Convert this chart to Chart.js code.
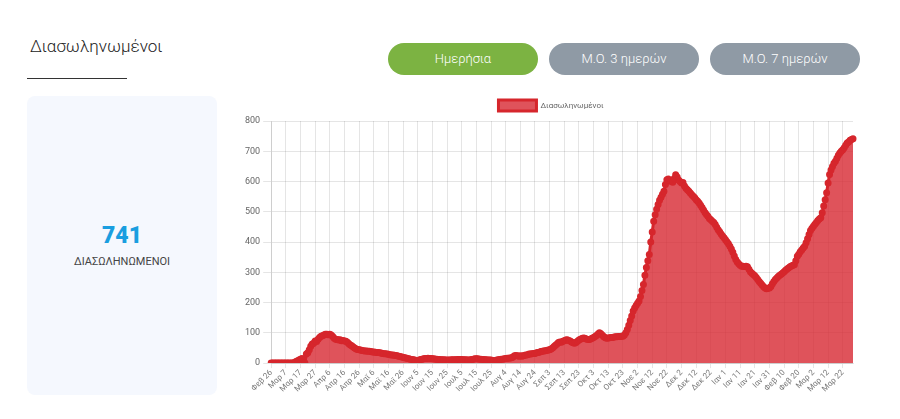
<!DOCTYPE html>
<html lang="el">
<head>
<meta charset="utf-8">
<title>Διασωληνωμένοι</title>
<script src="https://cdn.jsdelivr.net/npm/chart.js@4.4.1/dist/chart.umd.min.js"></script>
<style>
  body { margin: 0; background: #fff; font-family: Roboto, "Open Sans", sans-serif; width: 900px; height: 419px; position: relative; overflow: hidden; }
  .title { position: absolute; left: 30px; top: 36px; font-size: 17px; font-weight: 300; color: #222; }
  .rule { position: absolute; left: 27px; top: 78px; width: 100px; height: 1px; background: #333; }
  .btn { position: absolute; top: 43px; height: 32px; width: 150px; border-radius: 16px; color: #fff; font-size: 13px; font-weight: 300; text-align: center; line-height: 32px; }
  .green { background: #7cb342; }
  .grey { background: #8f9aa5; }
  .card { position: absolute; left: 27px; top: 96px; width: 190px; height: 299px; background: #f5f8fe; border-radius: 8px; text-align: center; }
  .big { position: absolute; left: 0; right: 0; top: 126px; font-size: 23px; font-weight: 900; color: #1a9ee0; }
  .small { position: absolute; left: 0; right: 0; top: 159px; font-size: 11px; font-weight: 400; color: #444; }
  .chart-box { position: absolute; left: 242px; top: 93px; width: 618px; height: 301px; }
</style>
</head>
<body>
<div class="title">Διασωληνωμένοι</div>
<div class="rule"></div>
<div class="btn green" style="left:388px">Ημερήσια</div>
<div class="btn grey" style="left:549px">Μ.Ο. 3 ημερών</div>
<div class="btn grey" style="left:710px">Μ.Ο. 7 ημερών</div>
<div class="card">
  <div class="big">741</div>
  <div class="small">ΔΙΑΣΩΛΗΝΩΜΕΝΟΙ</div>
</div>
<div class="chart-box"><canvas id="myChart"></canvas></div>

<script>
// month names for the x labels
const monthNames = ['Ιαν', 'Φεβ', 'Μαρ', 'Απρ', 'Μαϊ', 'Ιουν', 'Ιουλ', 'Αυγ', 'Σεπ', 'Οκτ', 'Νοε', 'Δεκ'];
const firstDay = [2020, 1, 26]; // Φεβ 26 2020

// intubated patients, one value per day, month by month
const feb20 = [0, 0, 0, 0];
const mar20 = [0, 0, 0, 0, 0, 0, 0, 0, 0, 0, 0, 0, 3, 5, 8, 10, 13, 15, 2, 0, 30, 34, 44, 56, 63, 66, 73, 71, 79, 85, 89];
const apr20 = [90, 93, 95, 95, 94, 95, 93, 88, 82, 79, 78, 76, 77, 74, 75, 73, 72, 69, 64, 60, 57, 53, 50, 47, 45, 44, 43, 42, 41, 40];
const may20 = [40, 39, 39, 38, 37, 37, 36, 35, 35, 34, 33, 32, 31, 31, 30, 29, 28, 27, 27, 26, 25, 24, 23, 22, 20, 19, 18, 17, 15, 14, 13];
const jun20 = [12, 11, 10, 9, 9, 10, 12, 13, 14, 15, 15, 16, 15, 15, 14, 14, 13, 13, 12, 12, 11, 11, 11, 10, 10, 10, 10, 11, 11, 11];
const jul20 = [11, 12, 12, 12, 12, 11, 11, 11, 10, 10, 11, 12, 13, 14, 14, 14, 13, 13, 12, 12, 11, 11, 10, 10, 10, 9, 9, 9, 10, 11, 12];
const aug20 = [13, 13, 14, 15, 16, 16, 17, 18, 20, 24, 25, 24, 23, 24, 23, 24, 26, 27, 28, 30, 30, 31, 32, 32, 34, 35, 36, 38, 39, 40, 41];
const sep20 = [42, 43, 44, 47, 50, 55, 59, 63, 68, 70, 69, 72, 74, 76, 77, 75, 73, 70, 67, 66, 68, 72, 76, 79, 81, 83, 82, 80, 78, 78];
const oct20 = [80, 82, 85, 88, 91, 96, 100, 97, 92, 87, 84, 82, 83, 84, 85, 85, 86, 87, 87, 88, 88, 89, 89, 93, 100, 111, 125, 141, 156, 172, 182];
const nov20 = [190, 198, 205, 220, 240, 260, 290, 316, 338, 359, 400, 433, 469, 490, 508, 524, 538, 548, 558, 568, 590, 606, 608, 603, 600, 598, 610, 622, 615, 605];
const dec20 = [600, 595, 597, 585, 578, 573, 568, 562, 556, 551, 546, 540, 535, 529, 522, 514, 506, 498, 491, 485, 478, 474, 469, 465, 458, 449, 441, 434, 427, 420, 414];
const jan21 = [408, 401, 394, 386, 377, 366, 354, 342, 334, 328, 323, 320, 320, 319, 320, 318, 310, 302, 297, 293, 289, 283, 276, 270, 264, 258, 252, 248, 246, 247, 248];
const feb21 = [253, 262, 270, 276, 281, 286, 290, 294, 298, 302, 307, 311, 314, 318, 321, 323, 325, 338, 353, 360, 368, 374, 380, 386, 398, 411, 425, 438];
const mar21 = [446, 452, 459, 465, 471, 476, 480, 497, 519, 540, 563, 595, 623, 638, 650, 660, 667, 677, 687, 694, 700, 705, 712, 720, 727, 731, 736, 739, 741];

const intubated = [].concat(feb20, mar20, apr20, may20, jun20, jul20, aug20, sep20, oct20, nov20, dec20, jan21, feb21, mar21);

const dayLabels = [];
for (let i = 0; i < intubated.length; i++) {
  const d = new Date(firstDay[0], firstDay[1], firstDay[2] + i);
  dayLabels.push(monthNames[d.getMonth()] + ' ' + d.getDate());
}

const ctx = document.getElementById('myChart');
Chart.defaults.font.family = 'Roboto, sans-serif';
Chart.defaults.color = '#666';

new Chart(ctx, {
  type: 'line',
  data: {
    labels: dayLabels,
    datasets: [{
      label: 'Διασωληνωμένοι',
      data: intubated,
      borderColor: 'rgb(214, 38, 44)',
      backgroundColor: 'rgba(215, 40, 50, 0.8)',
      borderWidth: 3,
      pointRadius: 2,
      pointBackgroundColor: 'rgb(214, 38, 44)',
      pointBorderColor: 'rgb(214, 38, 44)',
      fill: true,
      tension: 0
    }]
  },
  options: {
    responsive: true,
    maintainAspectRatio: false,
    animation: false,
    layout: { padding: { top: 5 } },
    plugins: {
      legend: {
        labels: { boxWidth: 38, boxHeight: 11, font: { size: 8 }, padding: 2 }
      },
      tooltip: { enabled: false }
    },
    scales: {
      x: {
        ticks: {
          autoSkip: false,
          minRotation: 45,
          maxRotation: 45,
          font: { size: 8 },
          color: '#777',
          padding: 0,
          callback: function (value, index) {
            return index % 10 === 0 ? this.getLabelForValue(value) : '';
          }
        },
        grid: {
          color: (c) => (c.index % 10 === 0 ? 'rgba(0,0,0,0.1)' : 'rgba(0,0,0,0)'),
          tickLength: 5
        }
      },
      y: {
        min: 0,
        max: 800,
        ticks: { stepSize: 100, font: { size: 9 } },
        grid: { color: 'rgba(0,0,0,0.1)' }
      }
    }
  }
});
</script>
</body>
</html>
